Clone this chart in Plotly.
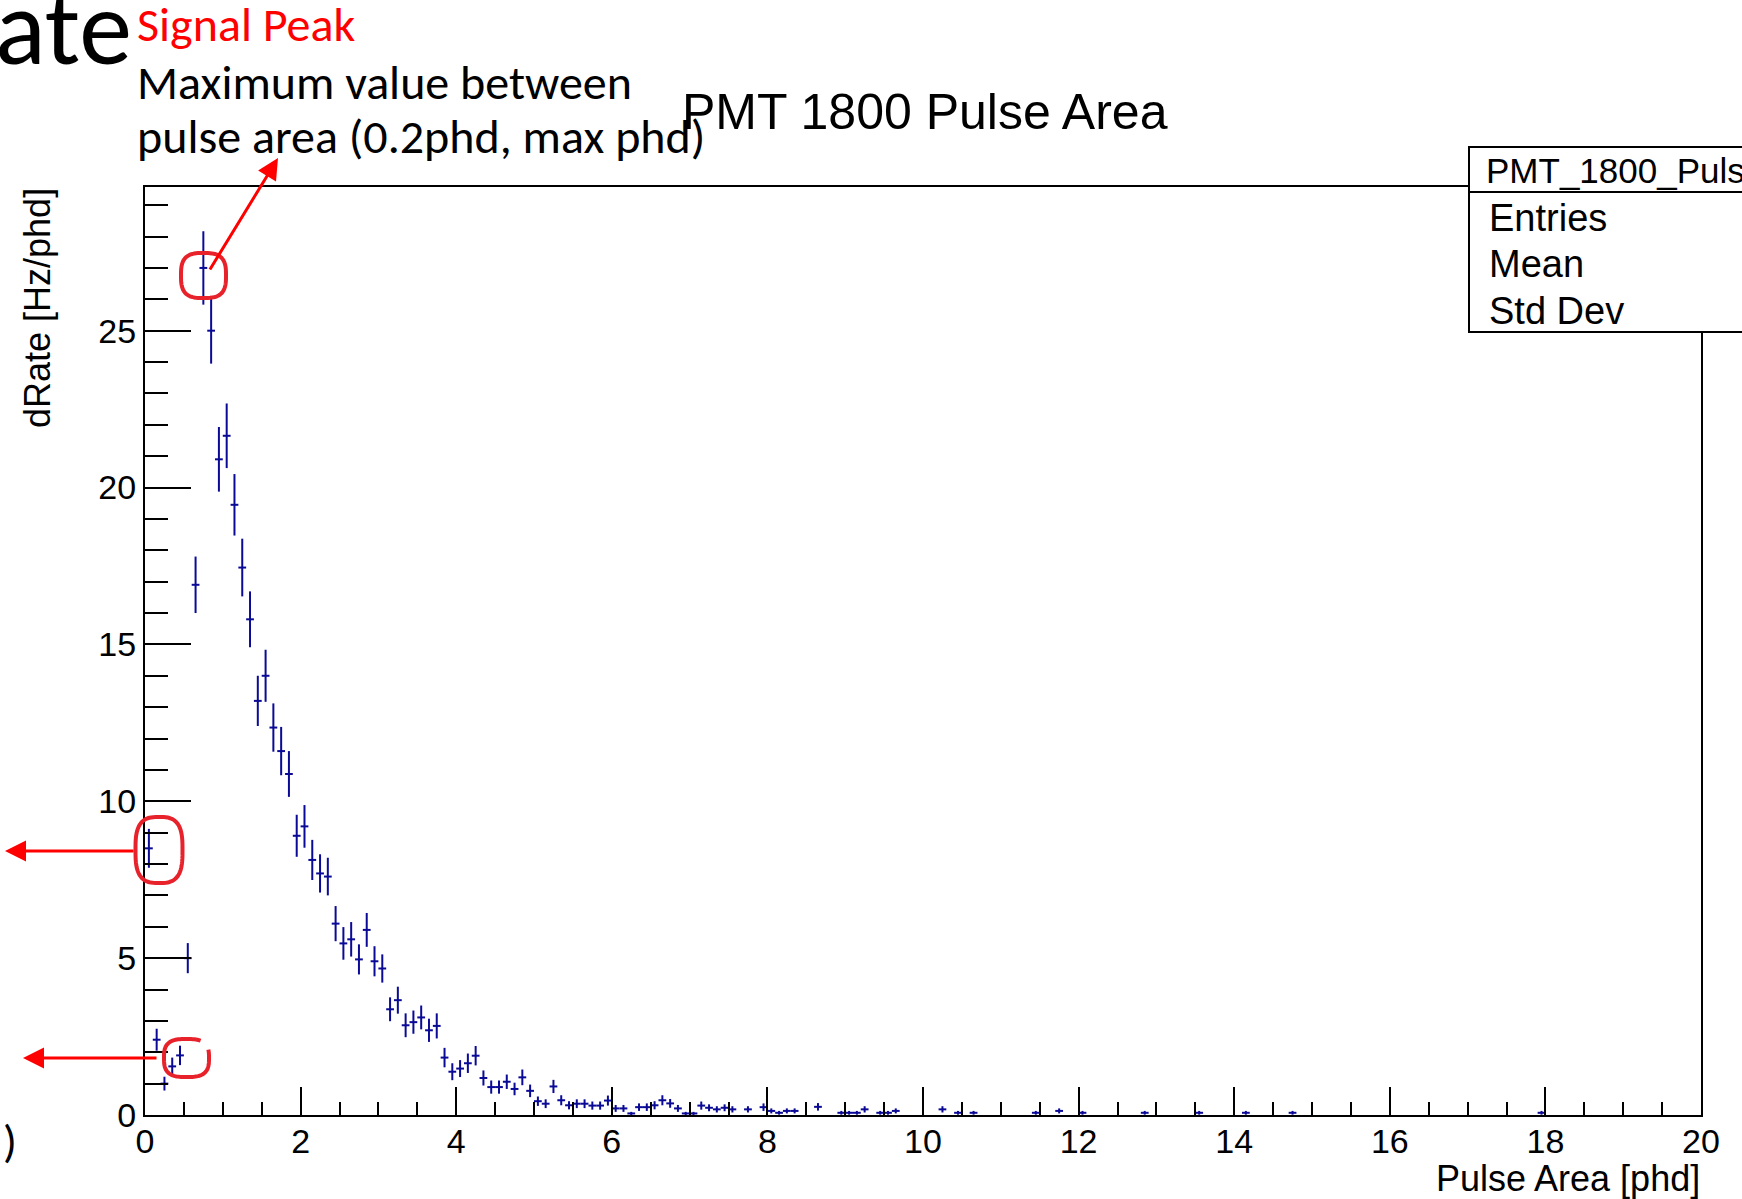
import numpy as np
import plotly.graph_objects as go

# ---------------- data ----------------
pulse_area_phd = [
    0.05, 0.15, 0.25, 0.35, 0.45, 0.55, 0.65, 0.75, 0.85, 0.95,
    1.05, 1.15, 1.25, 1.35, 1.45, 1.55, 1.65, 1.75, 1.85, 1.95,
    2.05, 2.15, 2.25, 2.35, 2.45, 2.55, 2.65, 2.75, 2.85, 2.95,
    3.05, 3.15, 3.25, 3.35, 3.45, 3.55, 3.65, 3.75, 3.85, 3.95,
    4.05, 4.15, 4.25, 4.35, 4.45, 4.55, 4.65, 4.75, 4.85, 4.95,
    5.05, 5.15, 5.25, 5.35, 5.45, 5.55, 5.65, 5.75, 5.85, 5.95,
    6.05, 6.15, 6.25, 6.35, 6.45, 6.55, 6.65, 6.75, 6.85, 6.95,
    7.05, 7.15, 7.25, 7.35, 7.45, 7.55, 7.75, 7.95, 8.05, 8.15,
    8.25, 8.35, 8.65, 8.95, 9.05, 9.15, 9.25, 9.45, 9.55, 9.65,
    10.25, 10.45, 10.65, 11.45, 11.75, 12.05, 12.85, 13.55, 14.15, 14.75,
    17.95,
]
drate_hz_per_phd = [
    8.5, 2.4, 1.0, 1.55, 1.9, 5.0, 16.9, 27.0, 25.0, 20.9,
    21.65, 19.45, 17.45, 15.8, 13.2, 14.0, 12.35, 11.6, 10.87, 8.9,
    9.2, 8.13, 7.7, 7.6, 6.1, 5.47, 5.6, 4.96, 5.9, 4.9,
    4.67, 3.37, 3.66, 2.86, 2.96, 3.11, 2.7, 2.84, 1.83, 1.38,
    1.48, 1.65, 1.89, 1.18, 0.89, 0.89, 1.06, 0.83, 1.2, 0.77,
    0.44, 0.36, 0.91, 0.47, 0.31, 0.36, 0.36, 0.30, 0.30, 0.46,
    0.21, 0.21, 0.05, 0.25, 0.25, 0.31, 0.47, 0.37, 0.21, 0.05,
    0.05, 0.30, 0.23, 0.18, 0.23, 0.18, 0.18, 0.25, 0.13, 0.07,
    0.13, 0.13, 0.26, 0.07, 0.07, 0.07, 0.18, 0.07, 0.07, 0.13,
    0.18, 0.07, 0.07, 0.07, 0.13, 0.07, 0.07, 0.07, 0.07, 0.07,
    0.07,
]
drate_err = [
    0.62, 0.35, 0.22, 0.28, 0.31, 0.48, 0.90, 1.17, 1.05, 1.03,
    1.03, 0.98, 0.92, 0.89, 0.80, 0.83, 0.77, 0.77, 0.73, 0.67,
    0.68, 0.64, 0.61, 0.60, 0.56, 0.52, 0.55, 0.48, 0.54, 0.48,
    0.45, 0.38, 0.43, 0.38, 0.37, 0.38, 0.37, 0.40, 0.31, 0.27,
    0.27, 0.31, 0.31, 0.24, 0.21, 0.21, 0.23, 0.20, 0.25, 0.20,
    0.15, 0.14, 0.21, 0.16, 0.13, 0.14, 0.14, 0.13, 0.13, 0.16,
    0.11, 0.11, 0.05, 0.12, 0.12, 0.13, 0.16, 0.14, 0.11, 0.05,
    0.05, 0.13, 0.11, 0.10, 0.11, 0.10, 0.10, 0.12, 0.08, 0.06,
    0.08, 0.08, 0.12, 0.06, 0.06, 0.06, 0.10, 0.06, 0.06, 0.08,
    0.10, 0.06, 0.06, 0.06, 0.08, 0.06, 0.06, 0.06, 0.06, 0.06,
    0.06,
]
bin_half_width = 0.05
x_ticks = [0, 2, 4, 6, 8, 10, 12, 14, 16, 18, 20]
y_ticks = [0, 5, 10, 15, 20, 25]

# ---------------- layout geometry (pixels) ----------------
W, H = 1742, 1199
ML, MR, MT, MB = 145, 41, 187, 84
PW, PH = W - ML - MR, H - MT - MB


def xp(px):
    return (px - ML) / PW


def yp(py):
    return (H - MB - py) / PH


BLUE = "#0a0a96"
RED = "#ff0000"
RED_PEN = "#e8222b"
ROOT_FONT = "Liberation Sans, Arial, Helvetica, sans-serif"
SLIDE_FONT = "Carlito, Calibri, Lato, sans-serif"

fig = go.Figure()
fig.add_trace(go.Scatter(
    x=pulse_area_phd, y=drate_hz_per_phd, mode="markers",
    marker=dict(size=1, color=BLUE),
    error_y=dict(type="data", array=drate_err, visible=True, color=BLUE, thickness=2, width=0),
    error_x=dict(type="constant", value=bin_half_width, visible=True, color=BLUE, thickness=2, width=0),
    showlegend=False, hoverinfo="x+y",
))

fig.update_layout(
    width=W, height=H,
    margin=dict(l=ML, r=MR, t=MT, b=MB, pad=0),
    paper_bgcolor="white", plot_bgcolor="white",
    font=dict(family=ROOT_FONT, color="black", size=34),
    xaxis=dict(
        range=[0, 20], tickvals=x_ticks, ticks="inside", ticklen=28, tickwidth=2,
        tickcolor="black", showline=True, linewidth=2, linecolor="black", mirror=True,
        showgrid=False, zeroline=False, tickfont=dict(size=34, family=ROOT_FONT),
        ticklabelstandoff=-5,
        minor=dict(dtick=0.5, ticks="inside", ticklen=13, tickwidth=2, tickcolor="black", showgrid=False),
    ),
    yaxis=dict(
        range=[0, 29.58], tickvals=y_ticks, ticks="inside", ticklen=46, tickwidth=2,
        tickcolor="black", showline=True, linewidth=2, linecolor="black", mirror=True,
        showgrid=False, zeroline=False, tickfont=dict(size=34, family=ROOT_FONT),
        minor=dict(dtick=1, ticks="inside", ticklen=23, tickwidth=2, tickcolor="black", showgrid=False),
    ),
)

annotations = []
shapes = []


def text(s, px, py, size, family=ROOT_FONT, color="black", xanchor="left", yanchor="middle", angle=0):
    annotations.append(dict(
        text=s, x=xp(px), y=yp(py), xref="paper", yref="paper", showarrow=False,
        xanchor=xanchor, yanchor=yanchor, textangle=angle,
        font=dict(size=size, family=family, color=color),
    ))


# ROOT texts
text("PMT 1800 Pulse Area", 925, 112, 50, xanchor="center")
text("Pulse Area [phd]", 1702, 1178, 36, xanchor="right")
text("dRate [Hz/phd]", 37, 186, 36, xanchor="center", yanchor="top", angle=-90)

# stats box
shapes.append(dict(type="rect", xref="paper", yref="paper", x0=xp(1469), x1=xp(1780),
                   y0=yp(332), y1=yp(147), fillcolor="white", line=dict(color="black", width=2), layer="above"))
shapes.append(dict(type="line", xref="paper", yref="paper", x0=xp(1469), x1=xp(1780),
                   y0=yp(192), y1=yp(192), line=dict(color="black", width=2), layer="above"))
text("PMT_1800_Puls", 1484, 170, 35)
text("Entries", 1487, 218, 38)
text("Mean", 1487, 264, 38)
text("Std Dev", 1487, 311, 38)

# slide overlay texts
text("ate", 134, 27, 106, family=SLIDE_FONT, xanchor="right")
text("Signal Peak", 135, 24, 48, family=SLIDE_FONT, color=RED)
text("Maximum value between", 135, 82, 48, family=SLIDE_FONT)
text("pulse area (0.2phd, max phd)", 135, 137, 48, family=SLIDE_FONT)
text(")", 10, 1141, 46, family=SLIDE_FONT, xanchor="center")


# arrows
def arrow(tip, tail):
    annotations.append(dict(
        text="", x=xp(tip[0]), y=yp(tip[1]), xref="paper", yref="paper",
        ax=tail[0] - tip[0], ay=tail[1] - tip[1], axref="pixel", ayref="pixel",
        showarrow=True, arrowhead=2, arrowsize=1.4, arrowwidth=3, arrowcolor=RED,
        standoff=0, startstandoff=0,
    ))


arrow((278, 158), (209, 271))
arrow((5, 851), (135, 851))
arrow((23, 1058), (158, 1058))


# hand-drawn circles (superellipse outlines)
def loop(cx, cy, a, b, t0=0.0, t1=2 * np.pi, closed=True, n=3.0):
    t = np.linspace(t0, t1, 90)
    c, s = np.cos(t), np.sin(t)
    xs = cx + a * np.sign(c) * np.abs(c) ** (2 / n)
    ys = cy + b * np.sign(s) * np.abs(s) ** (2 / n)
    pts = [f"{xp(x):.5f},{yp(y):.5f}" for x, y in zip(xs, ys)]
    path = "M " + " L ".join(pts) + (" Z" if closed else "")
    shapes.append(dict(type="path", xref="paper", yref="paper", path=path,
                       line=dict(color=RED_PEN, width=4), layer="above"))


loop(203.5, 275.5, 22.5, 22.5)
loop(159, 850, 23.5, 33)
loop(186.5, 1058, 22.5, 19, t0=-0.3, t1=2 * np.pi - 1.05, closed=False)

fig.update_layout(annotations=annotations, shapes=shapes)
fig.write_html("out.html")
